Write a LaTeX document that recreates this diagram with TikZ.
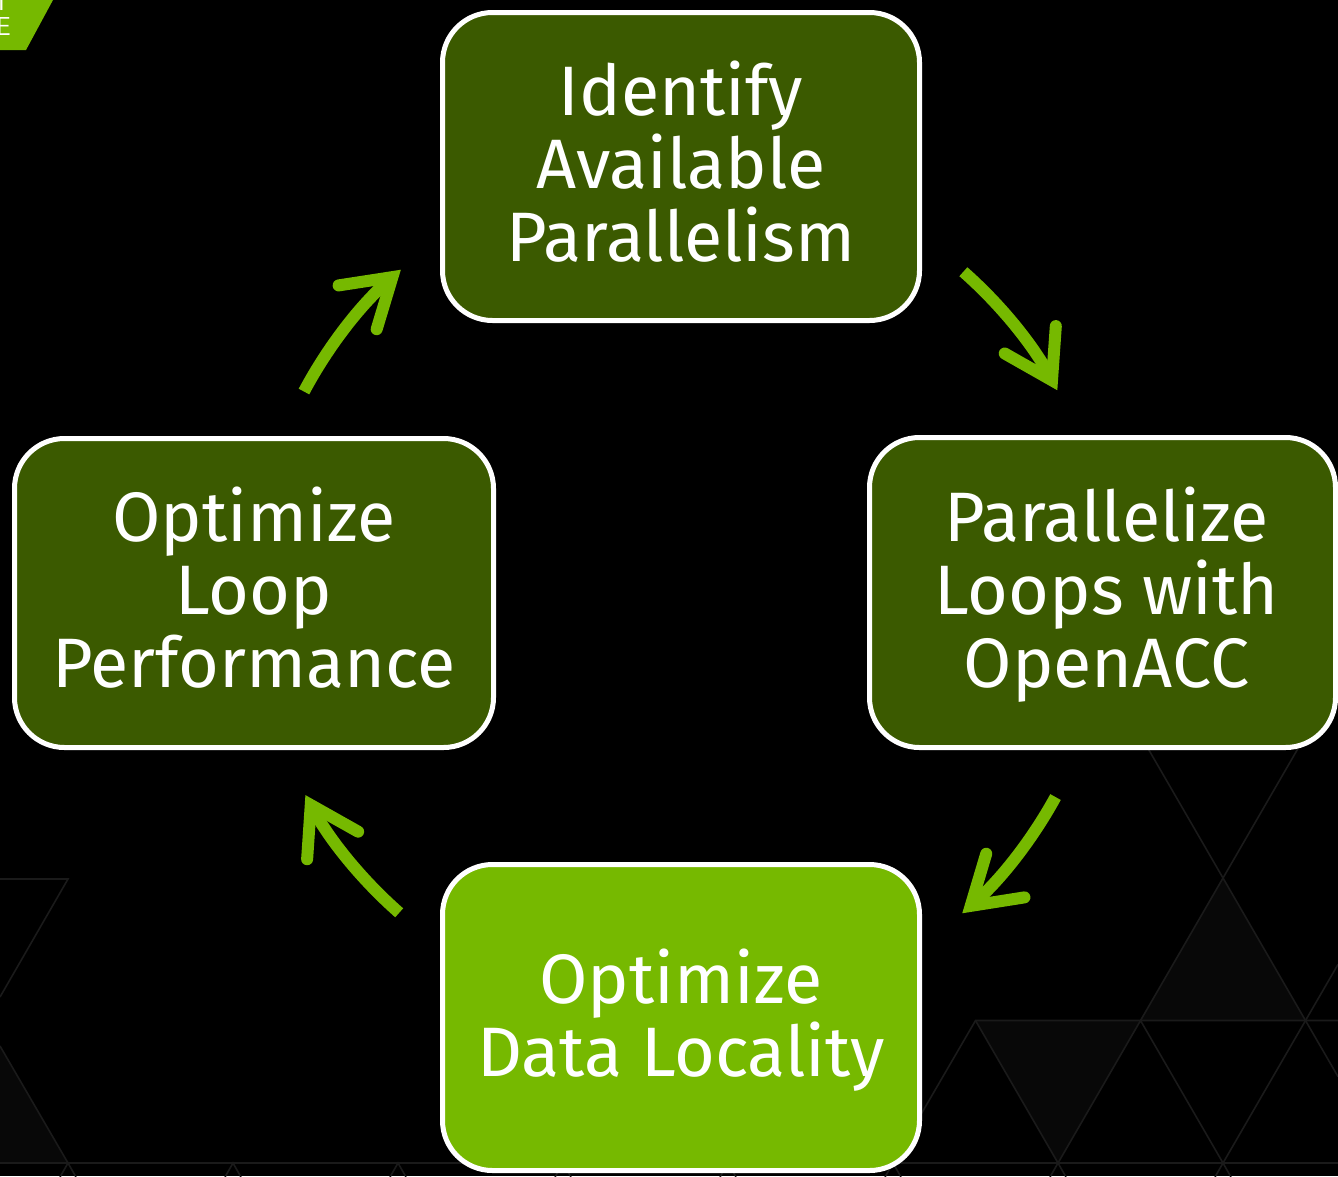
\documentclass[tikz,border=0pt]{standalone}
\usepackage{fontspec}
\setmainfont{Fira Sans}
\usetikzlibrary{arrows.meta,calc}
\definecolor{nvdark}{HTML}{3B5A00}
\definecolor{nvgreen}{HTML}{76B900}
\definecolor{gridline}{HTML}{1A1A1A}
\definecolor{gridfill}{HTML}{080808}
\begin{document}
\begin{tikzpicture}[x=1pt,y=-1pt,
  stepbox/.style={draw=white, line width=5pt, rounded corners=50pt, inner sep=0pt},
  steptext/.style={align=center, text=white, font=\fontsize{70}{73}\selectfont, inner sep=0pt},
  cyclearrow/.style={draw=nvgreen, line width=12pt,
    -{Straight Barb[length=46pt,width=58pt,line cap=round,line join=miter]}},
  grid/.style={draw=gridline, line width=1.6pt}]
\useasboundingbox (0,0) rectangle (1338,1176);
\clip (0,0) rectangle (1338,1176);
\fill[black] (0,0) rectangle (1338,1176);
% faint background lattice
\fill[gridfill] (1140.5,1020.5) -- (1305.5,1020.5) -- (1223,878) -- cycle;
\fill[gridfill] (0,1046) -- (68,1163) -- (0,1163) -- cycle;
\fill[gridfill] (975.5,1020.5) -- (1140.5,1020.5) -- (1058,1163) -- cycle;
\draw[grid] (0,879) -- (68,879) -- (0,997);
\draw[grid] (0,1046) -- (68,1163);
\draw[grid] (0,1163) -- (1338,1163);
\foreach \i in {0,...,7} {
  \draw[grid] (68+165*\i-8,1177) -- (68+165*\i,1163) -- (68+165*\i+8,1177);
}
\draw[grid] (1140.5,735.5) -- (1223,878) -- (1305.5,735.5);
\draw[grid] (1223,878) -- (1140.5,1020.5);
\draw[grid] (1223,878) -- (1305.5,1020.5) -- (1338,1076.6);
\draw[grid] (1305.5,1020.5) -- (1338,964.4);
\draw[grid] (920,1116) -- (975.5,1020.5) -- (1338,1020.5);
\draw[grid] (975.5,1020.5) -- (1058,1163) -- (1140.5,1020.5) -- (1223,1163) -- (1305.5,1020.5);
% corner fragment
\fill[nvgreen] (0,0) -- (53,0) -- (26,50) -- (0,50) -- cycle;
\node[text=white, font=\sffamily\fontsize{26}{26}\selectfont, anchor=base east, inner sep=0pt] (cornerT) at (10,10) {T};
\node[text=white, font=\sffamily\fontsize{26}{26}\selectfont, anchor=base east, inner sep=0pt] (cornerE) at (11,35) {E};
% boxes
\node[stepbox, fill=nvdark, minimum width=477pt, minimum height=308pt] (identify) at (681,166.5) {};
\node[stepbox, fill=nvdark, minimum width=466pt, minimum height=310pt] (parallelize) at (1102.5,592.5) {};
\node[stepbox, fill=nvgreen, minimum width=477pt, minimum height=306pt] (data) at (681,1017.5) {};
\node[stepbox, fill=nvdark, minimum width=479pt, minimum height=309pt] (loop) at (254,593) {};
% box texts
\node[steptext, yshift=5pt] (identifytext) at (identify.center) {Identify\\Available\\Parallelism};
\node[steptext, xshift=4pt, yshift=-2pt] (paralleltext) at (parallelize.center) {Parallelize\\Loops with\\OpenACC};
\node[steptext, yshift=-3pt] (datatext) at (data.center) {Optimize\\Data Locality};
\node[steptext, yshift=5pt] (looptext) at (loop.center) {Optimize\\Loop\\Performance};
% cycle arrows (arcs around the centre of the cycle)
\coordinate (C) at (681,592);
\coordinate (a1) at ($(C)+(208:427)$);
\coordinate (a2) at ($(C)+(311.4:427)$);
\coordinate (a3) at ($(C)+(28.7:427)$);
\coordinate (a4) at ($(C)+(131.3:427)$);
\draw[cyclearrow] (a1) arc[start angle=208, end angle=229, radius=427];
\draw[cyclearrow] (a2) arc[start angle=311.4, end angle=331.8, radius=427];
\draw[cyclearrow] (a3) arc[start angle=28.7, end angle=48.8, radius=427];
\draw[cyclearrow] (a4) arc[start angle=131.3, end angle=151.6, radius=427];
\end{tikzpicture}
\end{document}
